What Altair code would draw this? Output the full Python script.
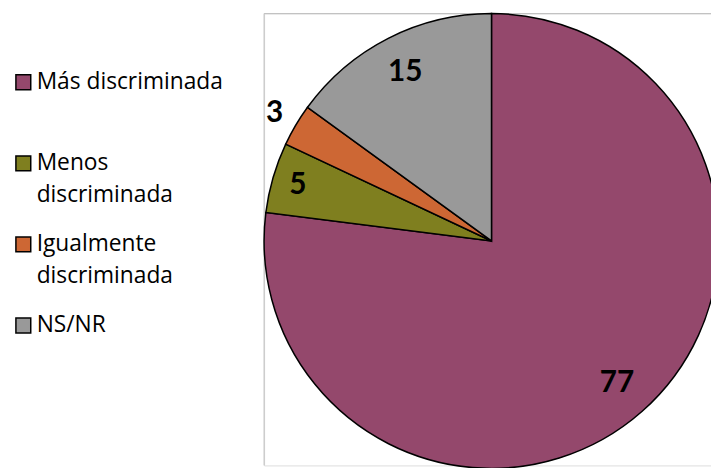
import altair as alt
import pandas as pd

categories = ["Más discriminada", "Menos discriminada", "Igualmente discriminada", "NS/NR"]
values = [77, 5, 3, 15]
colors = ["#94486C", "#7F7F1F", "#CD6734", "#999999"]

df = pd.DataFrame({"categoria": categories, "valor": values, "orden": list(range(len(categories)))})

PAD_L, PAD_T = 259, 3
W, H = 711 - PAD_L, 460 - PAD_T
R = 230

base = alt.Chart(df)

legend = alt.Legend(
    title=None,
    orient="none",
    legendX=-(PAD_L - 4),
    legendY=57 + (4 - PAD_T),
    symbolType="square",
    symbolSize=225,
    symbolStrokeColor="black",
    symbolStrokeWidth=1.5,
    symbolOpacity=1,
    labelFont="Open Sans",
    labelFontSize=23,
    labelColor="#000000",
    labelLimit=400,
    labelOffset=2,
    labelBaseline="middle",
    rowPadding=26,
    padding=0,
    labelExpr=(
        "datum.label == 'Menos discriminada' ? ['Menos', 'discriminada'] : "
        "datum.label == 'Igualmente discriminada' ? ['Igualmente', 'discriminada'] : "
        "[datum.label, '']"
    ),
)

arcs = base.mark_arc(stroke="black", strokeWidth=1.5, radius=R).encode(
    theta=alt.Theta("valor:Q", stack=True),
    order=alt.Order("orden:Q", sort="ascending"),
    color=alt.Color(
        "categoria:N",
        scale=alt.Scale(domain=categories, range=colors),
        sort=categories,
        legend=legend,
    ),
    x=alt.value(R),
    y=alt.value(R),
)

text_style = dict(font="Lato", fontSize=30, fontWeight="bold", color="black",
                  baseline="middle", align="center")


def label_layer(cond, radius):
    return base.transform_calculate(
        lab=f"({cond}) ? '' + datum.valor : ''"
    ).mark_text(radius=radius, **text_style).encode(
        theta=alt.Theta("valor:Q", stack=True),
        order=alt.Order("orden:Q", sort="ascending"),
        text=alt.Text("lab:N"),
        x=alt.value(R),
        y=alt.value(R),
    )


labels_big = label_layer("datum.valor >= 10", 192)
labels_mid = label_layer("datum.valor >= 4 && datum.valor < 10", 204)
labels_out = label_layer("datum.valor < 4", 255)

frame_data = alt.Data(values=[{"k": 1}])
top_line = alt.Chart(frame_data).mark_rule(color="#BFBFBF", strokeWidth=1).encode(
    x=alt.value(0), x2=alt.value(W), y=alt.value(0)
)
left_line = alt.Chart(frame_data).mark_rule(color="#BFBFBF", strokeWidth=1).encode(
    x=alt.value(0), y=alt.value(0), y2=alt.value(H)
)

chart = alt.layer(top_line, left_line, arcs, labels_big, labels_mid, labels_out).properties(
    width=W,
    height=H,
    autosize=alt.AutoSizeParams(type="none"),
    padding={"left": PAD_L, "top": PAD_T, "right": 0, "bottom": 0},
    background="white",
).configure_view(stroke=None).configure(
    style={"guide-label": {"lineHeight": 32}}
)

chart.save("out.html", embed_options={"renderer": "svg", "actions": False})
